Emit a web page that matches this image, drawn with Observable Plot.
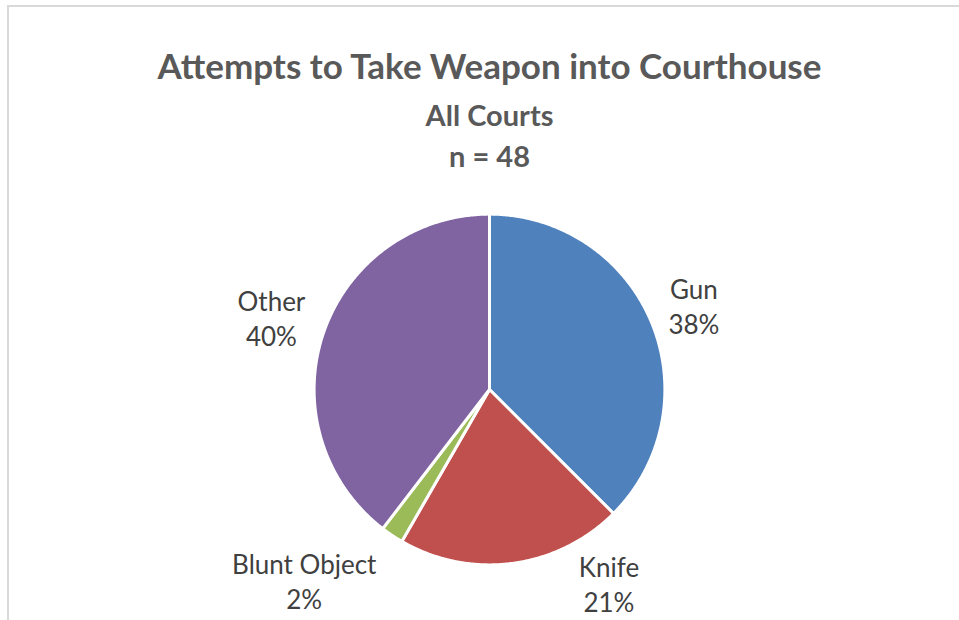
<!DOCTYPE html>
<html>
<head>
<meta charset="utf-8">
<script src="https://cdn.jsdelivr.net/npm/d3@7"></script>
<script src="https://cdn.jsdelivr.net/npm/@observablehq/plot@0.6"></script>
<style>
  html, body { margin: 0; padding: 0; background: #fff; }
  #wrap { position: relative; width: 959px; height: 620px; overflow: hidden; }
  #border { position: absolute; left: 7px; top: 5px; width: 951px; height: 640px;
            border-top: 2px solid #d9d9d9; border-left: 2px solid #d9d9d9; pointer-events: none; }
</style>
</head>
<body>
<div id="wrap"><div id="border"></div></div>
<script>
// ---- data ----
const categories = ["Gun", "Knife", "Blunt Object", "Other"];
const counts = [18, 10, 1, 19];
const percentLabels = ["38%", "21%", "2%", "40%"];
const colors = ["#4F81BD", "#C0504D", "#9BBB59", "#8064A2"];
const titleText = "Attempts to Take Weapon into Courthouse";
const subtitleLines = ["All Courts", "n = 48"];

// ---- layout (label placement in polar terms: degrees clockwise from top, radius multiple) ----
const labelPlacement = {
  "Gun": [67.7, 1.27],
  "Knife": [148.4, 1.31],
  "Blunt Object": [224.1, 1.53],
  "Other": [288.3, 1.32]
};

const W = 959, H = 620, cx = 489, cy = 389, R = 174;

const pie = d3.pie().sort(null).value(d => d.count)(
  categories.map((c, i) => ({category: c, count: counts[i], pct: percentLabels[i], color: colors[i]}))
);

// slice outlines in unit coordinates (x = sin, y = cos; clockwise from top)
const rOuter = 1.008;
const slices = pie.map(p => {
  const pts = [{x: 0, y: 0}];
  const n = Math.max(2, Math.ceil((p.endAngle - p.startAngle) / (Math.PI / 360)));
  for (let k = 0; k <= n; k++) {
    const a = p.startAngle + (p.endAngle - p.startAngle) * k / n;
    pts.push({x: rOuter * Math.sin(a), y: rOuter * Math.cos(a)});
  }
  pts.push({x: 0, y: 0});
  return {category: p.data.category, color: p.data.color, pts};
});

const labels = pie.map(p => {
  const [deg, rr] = labelPlacement[p.data.category];
  const a = deg * Math.PI / 180;
  return {text: p.data.category + "\n" + p.data.pct, x: rr * Math.sin(a), y: rr * Math.cos(a)};
});

const font = "Lato, 'Open Sans', sans-serif";
const marks = [];
for (const s of slices) {
  marks.push(Plot.line(s.pts, {x: "x", y: "y", fill: s.color, stroke: "#ffffff", strokeWidth: 3, strokeLinejoin: "round"}));
}
marks.push(Plot.text(labels, {
  x: "x", y: "y", text: "text", fill: "#404040", fontSize: 26,
  fontFamily: font, lineHeight: 1.35, lineAnchor: "middle"
}));
marks.push(Plot.text([titleText], {
  x: () => 0, frameAnchor: "top", dy: 78, lineAnchor: "bottom", text: d => d,
  fill: "#595959", fontSize: 35, fontWeight: "bold", fontFamily: font
}));
marks.push(Plot.text([subtitleLines.join("\n")], {
  x: () => 0, frameAnchor: "top", dy: 97, lineAnchor: "top", text: d => d, lineHeight: 1.4,
  fill: "#595959", fontSize: 29, fontWeight: "bold", fontFamily: font
}));

const chart = Plot.plot({
  width: W, height: H,
  marginTop: 0, marginRight: 0, marginBottom: 0, marginLeft: 0,
  x: {domain: [-cx / R, (W - cx) / R], axis: null},
  y: {domain: [-(H - cy) / R, cy / R], axis: null},
  style: {background: "transparent", overflow: "visible"},
  marks
});
chart.style.position = "absolute";
chart.style.left = "0px";
chart.style.top = "0px";
document.getElementById("wrap").insertBefore(chart, document.getElementById("border"));
</script>
</body>
</html>
